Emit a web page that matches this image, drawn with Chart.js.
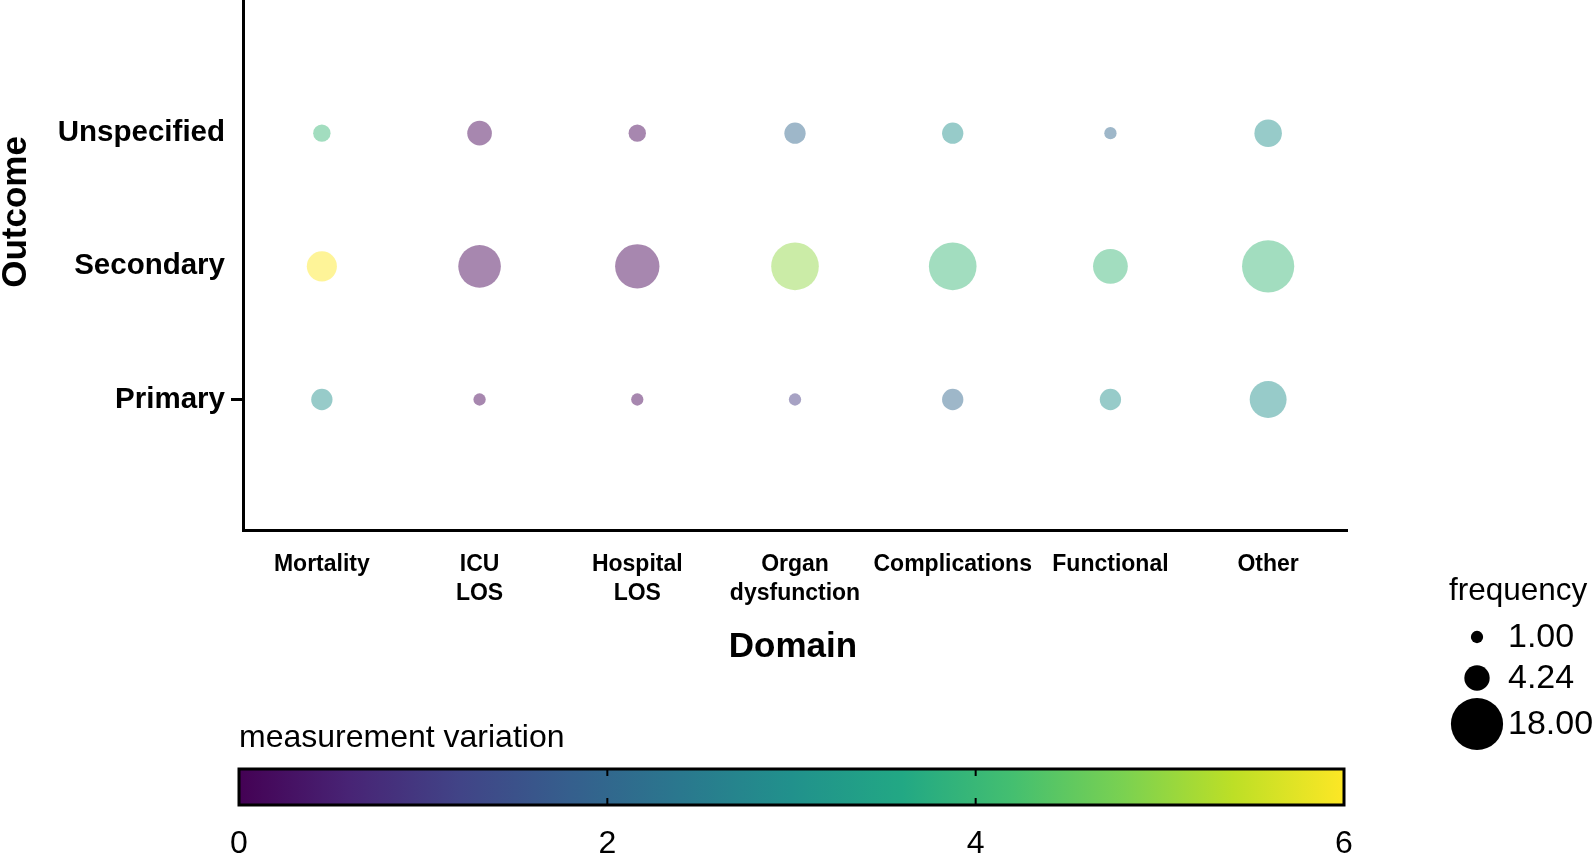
<!DOCTYPE html>
<html>
<head>
<meta charset="utf-8">
<title>Outcome by domain</title>
<script src="https://cdn.jsdelivr.net/npm/chart.js@4.4.0/dist/chart.umd.min.js"></script>
<style>
  html, body { margin: 0; padding: 0; background: #fff; }
  #wrap { width: 1594px; height: 854px; }
</style>
</head>
<body>
<div id="wrap"><canvas id="bubbleChart" width="1594" height="854"></canvas></div>
<script>
// categories
const domains = ['Mortality', 'ICU LOS', 'Hospital LOS', 'Organ dysfunction', 'Complications', 'Functional', 'Other'];
const domainTickLabels = [['Mortality'], ['ICU', 'LOS'], ['Hospital', 'LOS'], ['Organ', 'dysfunction'], ['Complications'], ['Functional'], ['Other']];
const outcomes = ['Primary', 'Secondary', 'Unspecified'];

// frequency per domain (bubble size)
const freqPrimary     = [3, 1, 1, 1, 3, 3, 9];
const freqSecondary   = [6, 12, 13, 15, 15, 8, 18];
const freqUnspecified = [2, 4, 2, 3, 3, 1, 5];

// measurement variation per domain (bubble colour)
const varPrimary     = [3, 0, 0, 1, 2, 3, 3];
const varSecondary   = [6, 0, 0, 5, 4, 4, 4];
const varUnspecified = [4, 0, 0, 2, 3, 2, 3];

// legend values
const sizeLegendValues = [1.00, 4.24, 18.00];
const colorbarTicks = [0, 2, 4, 6];

const FONT = '"Liberation Sans", Arial, Helvetica, sans-serif';

const viridis = [
  [68, 1, 84], [72, 36, 117], [65, 68, 135], [53, 95, 141], [42, 120, 142],
  [33, 145, 140], [34, 168, 132], [68, 191, 112], [122, 209, 81], [189, 223, 38], [253, 231, 37]
];

function viridisColor(v, alpha) {
  const t = Math.max(0, Math.min(1, v / 6)) * (viridis.length - 1);
  const i = Math.min(Math.floor(t), viridis.length - 2);
  const f = t - i;
  const c = viridis[i].map((a, k) => Math.round(a + (viridis[i + 1][k] - a) * f));
  return 'rgba(' + c[0] + ',' + c[1] + ',' + c[2] + ',' + alpha + ')';
}

// diameter grows with sqrt(frequency)
function radiusFor(freq) {
  return 6.15 * Math.sqrt(freq);
}

function buildRow(freqs, vars, yValue) {
  return domains.map((d, i) => ({ x: i, y: yValue, r: radiusFor(freqs[i]), v: vars[i] }));
}

const rows = [
  { label: 'Primary', data: buildRow(freqPrimary, varPrimary, 1) },
  { label: 'Secondary', data: buildRow(freqSecondary, varSecondary, 2) },
  { label: 'Unspecified', data: buildRow(freqUnspecified, varUnspecified, 3) }
];

// titles, size legend and colour bar
const extrasPlugin = {
  id: 'extras',
  afterDraw(chart) {
    const ctx = chart.ctx;
    const area = chart.chartArea;
    ctx.save();
    ctx.fillStyle = '#000';

    // axis titles
    ctx.font = 'bold 35px ' + FONT;
    ctx.textAlign = 'center';
    ctx.textBaseline = 'middle';
    ctx.fillText('Domain', (area.left + area.right) / 2 - 2, 647);
    ctx.save();
    ctx.translate(16, 212);
    ctx.rotate(-Math.PI / 2);
    ctx.fillText('Outcome', 0, 0);
    ctx.restore();

    // size legend
    ctx.font = '31.5px ' + FONT;
    ctx.textAlign = 'left';
    ctx.fillText('frequency', 1449, 591);
    const legendY = [637, 678, 724];
    ctx.font = '34px ' + FONT;
    sizeLegendValues.forEach((val, i) => {
      ctx.beginPath();
      ctx.arc(1477, legendY[i], radiusFor(val), 0, Math.PI * 2);
      ctx.fill();
      ctx.fillText(val.toFixed(2), 1508, legendY[i] + 1);
    });

    // colour bar
    const bx0 = 239, bx1 = 1344, by0 = 769, by1 = 805;
    ctx.font = '32px ' + FONT;
    ctx.fillText('measurement variation', 239, 738);
    const grad = ctx.createLinearGradient(bx0, 0, bx1, 0);
    viridis.forEach((c, i) => {
      grad.addColorStop(i / (viridis.length - 1), 'rgb(' + c.join(',') + ')');
    });
    ctx.fillStyle = grad;
    ctx.fillRect(bx0, by0, bx1 - bx0, by1 - by0);
    ctx.strokeStyle = '#000';
    ctx.lineWidth = 3;
    ctx.strokeRect(bx0, by0, bx1 - bx0, by1 - by0);
    ctx.lineWidth = 2;
    const min = colorbarTicks[0], max = colorbarTicks[colorbarTicks.length - 1];
    ctx.fillStyle = '#000';
    ctx.font = '32px ' + FONT;
    ctx.textAlign = 'center';
    ctx.textBaseline = 'top';
    colorbarTicks.forEach(t => {
      const x = bx0 + (t - min) / (max - min) * (bx1 - bx0);
      if (t !== min && t !== max) {
        ctx.beginPath();
        ctx.moveTo(x, by0);
        ctx.lineTo(x, by0 + 7);
        ctx.moveTo(x, by1);
        ctx.lineTo(x, by1 - 7);
        ctx.stroke();
      }
      ctx.fillText(String(t), x, 828);
    });
    ctx.restore();
  }
};

new Chart(document.getElementById('bubbleChart'), {
  type: 'bubble',
  data: {
    datasets: rows.map(row => ({
      label: row.label,
      data: row.data,
      backgroundColor: c => viridisColor(c.raw.v, 0.47),
      borderWidth: 0,
      hoverBorderWidth: 0
    }))
  },
  options: {
    responsive: false,
    animation: false,
    layout: { autoPadding: false, padding: { left: 0, top: 0, right: 247, bottom: 0 } },
    plugins: {
      legend: { display: false },
      tooltip: { enabled: false }
    },
    scales: {
      x: {
        type: 'linear',
        min: -0.5,
        max: 6.5,
        afterBuildTicks: s => { s.ticks = domains.map((d, i) => ({ value: i })); },
        afterFit: s => { s.height = 324; s.paddingLeft = 0; s.paddingRight = 0; },
        ticks: {
          callback: v => domainTickLabels[v],
          color: '#000',
          font: { family: FONT, size: 23, weight: 'bold', lineHeight: 1.27 },
          padding: 20,
          maxRotation: 0,
          minRotation: 0,
          autoSkip: false
        },
        grid: { drawOnChartArea: false, drawTicks: false },
        border: { display: true, color: '#000', width: 3 }
      },
      y: {
        type: 'linear',
        min: 0.02,
        max: 4,
        afterBuildTicks: s => { s.ticks = outcomes.map((o, i) => ({ value: i + 1 })); },
        afterFit: s => { s.width = 243; s.paddingTop = 0; s.paddingBottom = 0; },
        ticks: {
          callback: v => outcomes[v - 1],
          color: '#000',
          font: { family: FONT, size: 29.5, weight: 'bold' },
          padding: 6
        },
        grid: {
          drawOnChartArea: false,
          drawTicks: true,
          tickLength: 12,
          lineWidth: 3,
          color: c => (c.tick && c.tick.value === 1 ? '#000' : 'rgba(0,0,0,0)')
        },
        border: { display: true, color: '#000', width: 3 }
      }
    }
  },
  plugins: [extrasPlugin]
});
</script>
</body>
</html>
